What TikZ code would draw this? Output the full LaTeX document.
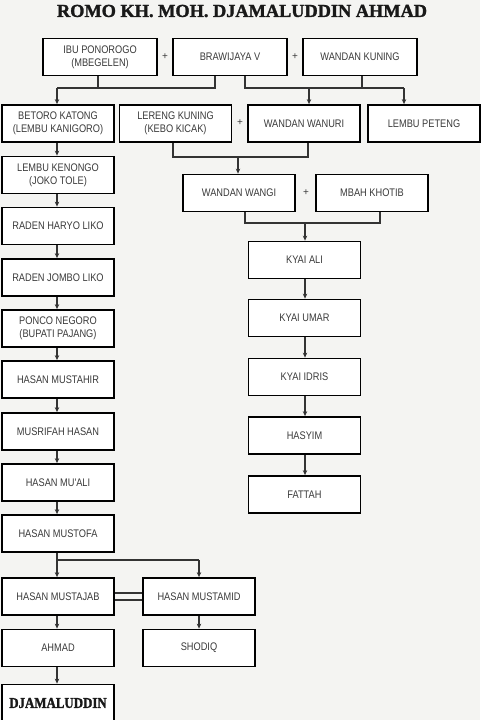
\documentclass[tikz,border=0pt]{standalone}
\usepackage{fontspec}
\setmainfont{Liberation Sans}
\newfontfamily\boxfont[FakeStretch=0.84]{Liberation Sans}
\newfontfamily\titlefont[FakeBold=1.6]{Liberation Serif}
\newfontfamily\djfont[FakeStretch=0.86,FakeBold=1.6]{Liberation Serif}
\usetikzlibrary{arrows.meta}
\definecolor{bgc}{HTML}{F4F4F2}
\definecolor{txt}{HTML}{3A3A3A}
\definecolor{lnc}{HTML}{333333}
\tikzset{
  box/.style={draw=black, line width=1.8pt, fill=white, minimum width=112pt, minimum height=37pt,
    inner sep=1pt, align=center, text=txt, font=\boxfont\fontsize{11}{13}\selectfont},
  wbox/.style={box, minimum width=114pt},
  conn/.style={draw=lnc, line width=1.1pt},
  arr/.style={conn, -{Stealth[length=5pt,width=4.5pt]}},
  plus/.style={text=txt, font=\fontsize{10}{10}\selectfont, inner sep=0pt}
}
\begin{document}
\begin{tikzpicture}[x=1pt,y=-1pt]
\fill[bgc] (0,0) rectangle (480,720);
\useasboundingbox (0,0) rectangle (480,720);
% title
\node[text=black!90, font=\titlefont\bfseries\fontsize{18.3}{20}\selectfont, inner sep=0pt] (title) at (242,11) {ROMO KH. MOH. DJAMALUDDIN AHMAD};
% top row
\node[wbox] (ibu) at (100,57) {IBU PONOROGO\\(MBEGELEN)};
\node[wbox] (braw) at (230,57) {BRAWIJAYA V};
\node[wbox] (wk) at (360,57) {WANDAN KUNING};
\node[plus] (p1) at (165,57) {+};
\node[plus] (p2) at (295,57) {+};
% second row
\node[box] (betoro) at (58,123.5) {BETORO KATONG\\(LEMBU KANIGORO)};
\node[box] (lereng) at (175.5,123.5) {LERENG KUNING\\(KEBO KICAK)};
\node[box] (wanuri) at (304,123.5) {WANDAN WANURI};
\node[box] (peteng) at (424,123.5) {LEMBU PETENG};
\node[plus] (p3) at (240,123) {+};
% third row
\node[box] (wangi) at (239,193) {WANDAN WANGI};
\node[box] (khotib) at (372,193) {MBAH KHOTIB};
\node[plus] (p4) at (306,193) {+};
% right column
\node[box] (ali) at (304.5,260) {KYAI ALI};
\node[box] (umar) at (304.5,318) {KYAI UMAR};
\node[box] (idris) at (304.5,377) {KYAI IDRIS};
\node[box] (hasyim) at (304.5,435.5) {HASYIM};
\node[box] (fattah) at (304.5,494.5) {FATTAH};
% left column
\node[box] (kenongo) at (58,175) {LEMBU KENONGO\\(JOKO TOLE)};
\node[box] (haryo) at (58,226) {RADEN HARYO LIKO};
\node[box] (jombo) at (58,277.5) {RADEN JOMBO LIKO};
\node[box] (ponco) at (58,328.5) {PONCO NEGORO\\(BUPATI PAJANG)};
\node[box] (mustahir) at (58,379.5) {HASAN MUSTAHIR};
\node[box] (musrifah) at (58,431.5) {MUSRIFAH HASAN};
\node[box] (muali) at (58,482.5) {HASAN MU'ALI};
\node[box] (mustofa) at (58,533.5) {HASAN MUSTOFA};
\node[box] (mustajab) at (58,596.5) {HASAN MUSTAJAB};
\node[box] (mustamid) at (199,596.5) {HASAN MUSTAMID};
\node[box] (ahmad) at (58,648) {AHMAD};
\node[box] (shodiq) at (199,648) {SHODIQ};
\node[box, text=black!90, font=\djfont\bfseries\fontsize{15}{16}\selectfont] (djamal) at (58,703) {DJAMALUDDIN};
% top connectors
\coordinate (j1) at (57,88);
\coordinate (j2) at (98,88);
\coordinate (j3) at (215,88);
\draw[conn] (ibu.south -| j2) -- (j2);
\draw[conn] (braw.south -| j3) -- (j3) -- (j1);
\draw[arr] (j1) -- (betoro.north -| j1);
\coordinate (k1) at (245,88);
\coordinate (k2) at (362,88);
\coordinate (k3) at (404,88);
\coordinate (k4) at (309,88);
\draw[conn] (braw.south -| k1) -- (k1) -- (k3);
\draw[conn] (wk.south -| k2) -- (k2);
\draw[arr] (k4) -- (wanuri.north -| k4);
\draw[arr] (k3) -- (peteng.north -| k3);
% lereng + wanuri
\coordinate (m1) at (173,157);
\coordinate (m2) at (308,157);
\coordinate (m3) at (238,157);
\draw[conn] (lereng.south -| m1) -- (m1) -- (m2) -- (wanuri.south -| m2);
\draw[arr] (m3) -- (wangi.north -| m3);
% wangi + khotib
\coordinate (n1) at (245,223);
\coordinate (n2) at (380,223);
\coordinate (n3) at (305,223);
\draw[conn] (wangi.south -| n1) -- (n1) -- (n2) -- (khotib.south -| n2);
\draw[arr] (n3) -- (ali.north -| n3);
% right column
\draw[arr] (ali.south -| n3) -- (umar.north -| n3);
\draw[arr] (umar.south -| n3) -- (idris.north -| n3);
\draw[arr] (idris.south -| n3) -- (hasyim.north -| n3);
\draw[arr] (hasyim.south -| n3) -- (fattah.north -| n3);
% left column
\draw[arr] (betoro.south -| j1) -- (kenongo.north -| j1);
\draw[arr] (kenongo.south -| j1) -- (haryo.north -| j1);
\draw[arr] (haryo.south -| j1) -- (jombo.north -| j1);
\draw[arr] (jombo.south -| j1) -- (ponco.north -| j1);
\draw[arr] (ponco.south -| j1) -- (mustahir.north -| j1);
\draw[arr] (mustahir.south -| j1) -- (musrifah.north -| j1);
\draw[arr] (musrifah.south -| j1) -- (muali.north -| j1);
\draw[arr] (muali.south -| j1) -- (mustofa.north -| j1);
\coordinate (q1) at (57,560);
\coordinate (q2) at (199,560);
\draw[arr] (mustofa.south -| j1) -- (mustajab.north -| j1);
\draw[conn] (q1) -- (q2);
\draw[arr] (q2) -- (mustamid.north);
\draw[conn] ([yshift=-3.5pt]mustajab.east) -- ([yshift=-3.5pt]mustamid.west);
\draw[conn] ([yshift=3.5pt]mustajab.east) -- ([yshift=3.5pt]mustamid.west);
\draw[arr] (mustajab.south -| j1) -- (ahmad.north -| j1);
\draw[arr] (ahmad.south -| j1) -- (djamal.north -| j1);
\draw[arr] (mustamid.south) -- (shodiq.north);
\end{tikzpicture}
\end{document}
